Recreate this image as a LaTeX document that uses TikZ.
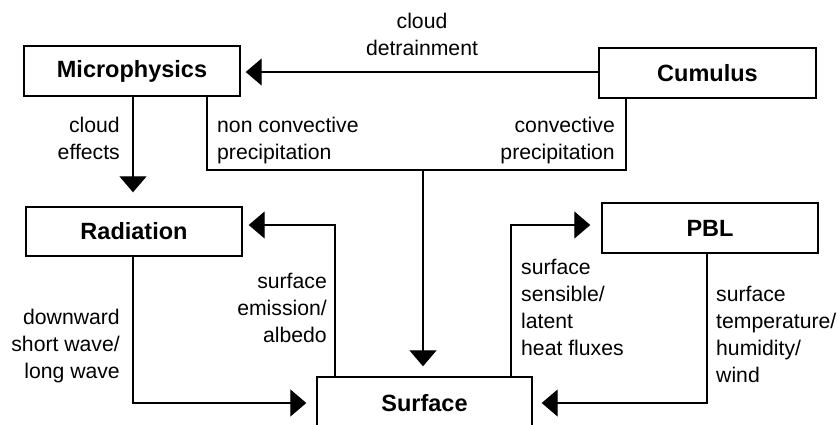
\documentclass[tikz,border=0pt]{standalone}
\usepackage{fontspec}
\setmainfont{Liberation Sans}
\usetikzlibrary{arrows.meta}
\begin{document}
\begin{tikzpicture}[x=1pt,y=-1pt,
  box/.style={draw,line width=1.4pt,inner sep=0pt,font=\fontsize{23.5}{27}\selectfont\bfseries},
  lbl/.style={inner sep=0pt,font=\fontsize{21.2}{26.8}\selectfont},
  conn/.style={line width=1.3pt},
  arr/.style={conn,-{Triangle[length=16pt,width=27pt]}}]
\clip (0,0) rectangle (838,424);
\useasboundingbox (0,0) rectangle (838,424);
% boxes
\node[box,minimum width=216pt,minimum height=50pt] (micro) at (132,71) {Microphysics};
\node[box,minimum width=217pt,minimum height=50pt] (cumulus) at (707.5,73) {Cumulus};
\node[box,minimum width=216pt,minimum height=49pt] (rad) at (134,231.5) {Radiation};
\node[box,minimum width=216pt,minimum height=50pt] (pbl) at (710,228) {PBL};
\node[box,minimum width=215pt,minimum height=53pt] (surf) at (424.5,403.5) {Surface};
% bend points
\coordinate (p1) at (207,170);
\coordinate (p2) at (626,170);
\coordinate (p3) at (423,170);
\coordinate (p4) at (335,225);
\coordinate (p5) at (133,403);
\coordinate (p6) at (511,225);
\coordinate (p7) at (707,403);
% connectors
\draw[arr,shorten >=5pt] (cumulus.west |- 0,72) -- (micro.east |- 0,72);
\draw[arr,shorten >=14pt] (micro.south -| p5) -- (rad.north -| p5);
\draw[conn] (micro.south -| p1) -- (p1) -- (p2) -- (cumulus.south -| p2);
\draw[arr,shorten >=10pt] (p3) -- (surf.north -| p3);
\draw[arr,shorten >=6pt] (surf.north -| p4) -- (p4) -- (rad.east |- p4);
\draw[arr,shorten >=10pt] (rad.south -| p5) -- (p5) -- (surf.west |- p5);
\draw[arr,shorten >=11pt] (surf.north -| p6) -- (p6) -- (pbl.west |- p6);
\draw[arr,shorten >=9pt] (pbl.south -| p7) -- (p7) -- (surf.east |- p7);
% labels (base anchor = baseline of last line)
\node[lbl,align=center,anchor=base] (l1) at (422,55) {cloud\\detrainment};
\node[lbl,align=right,anchor=base east] (l2) at (120,159) {cloud\\effects};
\node[lbl,align=left,anchor=base west] (l3) at (217,159) {non convective\\precipitation};
\node[lbl,align=right,anchor=base east] (l4) at (615,159) {convective\\precipitation};
\node[lbl,align=right,anchor=base east] (l5) at (327,342) {surface\\emission/\\albedo};
\node[lbl,align=right,anchor=base east] (l6) at (120,378) {downward\\short wave/\\long wave};
\node[lbl,align=left,anchor=base west] (l7) at (521,355) {surface\\sensible/\\latent\\heat fluxes};
\node[lbl,align=left,anchor=base west] (l8) at (716,382) {surface\\temperature/\\humidity/\\wind};
\end{tikzpicture}
\end{document}
